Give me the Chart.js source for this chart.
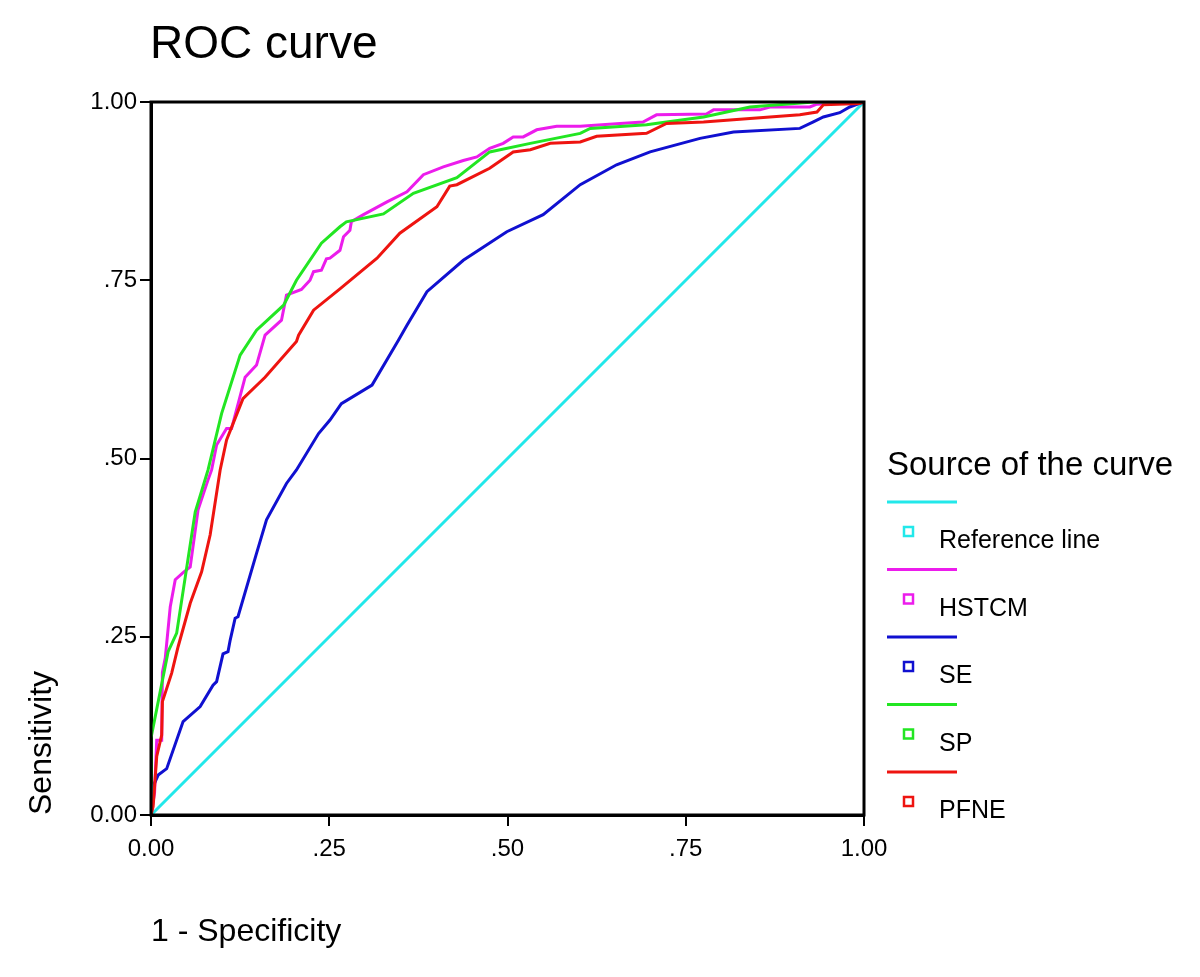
<!DOCTYPE html>
<html>
<head>
<meta charset="utf-8">
<script src="https://cdn.jsdelivr.net/npm/chart.js@4/dist/chart.umd.min.js"></script>
<style>
html,body{margin:0;padding:0;background:#fff;}
#wrap{width:1200px;height:977px;position:relative;}
</style>
</head>
<body>
<div id="wrap"><canvas id="c" width="1200" height="977"></canvas></div>
<script>
// ---- data ----
const chartTitle = "ROC curve";
const xTitle = "1 - Specificity";
const yTitle = "Sensitivity";
const legendTitle = "Source of the curve";
const tickValues = [0, 0.25, 0.5, 0.75, 1];
const tickLabels = ["0.00", ".25", ".50", ".75", "1.00"];

const seriesNames = ["Reference line", "HSTCM", "SE", "SP", "PFNE"];
const seriesColors = ["#22e8ea", "#ec1cec", "#1010d0", "#22e622", "#ee1410"];

const refX = [0, 1];
const refY = [0, 1];

const hstcmX = [0, 0.005, 0.008, 0.015, 0.016, 0.02, 0.027, 0.034, 0.045, 0.055, 0.066, 0.080, 0.085, 0.092, 0.106, 0.113, 0.132, 0.148, 0.160, 0.183, 0.190, 0.211, 0.223, 0.228, 0.239, 0.246, 0.251, 0.265, 0.270, 0.279, 0.281, 0.298, 0.331, 0.359, 0.382, 0.410, 0.438, 0.457, 0.475, 0.494, 0.508, 0.522, 0.541, 0.569, 0.602, 0.658, 0.690, 0.709, 0.779, 0.789, 0.854, 0.868, 0.924, 0.934, 1];
const hstcmY = [0, 0.031, 0.105, 0.105, 0.200, 0.220, 0.292, 0.330, 0.340, 0.348, 0.428, 0.470, 0.484, 0.519, 0.542, 0.542, 0.614, 0.631, 0.673, 0.694, 0.729, 0.737, 0.750, 0.762, 0.764, 0.780, 0.781, 0.792, 0.811, 0.820, 0.832, 0.842, 0.860, 0.874, 0.898, 0.909, 0.918, 0.923, 0.935, 0.942, 0.951, 0.951, 0.961, 0.966, 0.966, 0.970, 0.972, 0.982, 0.983, 0.989, 0.989, 0.993, 0.993, 0.997, 1];

const seX = [0, 0.003, 0.010, 0.022, 0.045, 0.069, 0.087, 0.092, 0.101, 0.108, 0.111, 0.118, 0.122, 0.148, 0.162, 0.190, 0.204, 0.235, 0.251, 0.267, 0.310, 0.347, 0.359, 0.387, 0.438, 0.499, 0.550, 0.602, 0.653, 0.700, 0.770, 0.817, 0.910, 0.929, 0.943, 0.966, 0.980, 0.994, 1];
const seY = [0, 0.040, 0.056, 0.065, 0.131, 0.152, 0.182, 0.187, 0.226, 0.229, 0.245, 0.276, 0.278, 0.367, 0.414, 0.465, 0.484, 0.535, 0.554, 0.577, 0.603, 0.666, 0.687, 0.734, 0.778, 0.818, 0.842, 0.884, 0.912, 0.930, 0.949, 0.958, 0.963, 0.972, 0.979, 0.985, 0.993, 0.998, 1];

const spX = [0, 0, 0.024, 0.036, 0.062, 0.080, 0.099, 0.125, 0.148, 0.186, 0.204, 0.239, 0.265, 0.274, 0.326, 0.368, 0.429, 0.475, 0.532, 0.602, 0.616, 0.695, 0.723, 0.775, 0.840, 0.929, 1];
const spY = [0, 0.108, 0.229, 0.255, 0.425, 0.484, 0.563, 0.645, 0.680, 0.715, 0.750, 0.802, 0.825, 0.832, 0.843, 0.872, 0.894, 0.930, 0.942, 0.956, 0.963, 0.968, 0.972, 0.979, 0.993, 1.0, 1];

const pfneX = [0, 0.003, 0.008, 0.015, 0.016, 0.029, 0.038, 0.055, 0.071, 0.083, 0.097, 0.106, 0.129, 0.160, 0.204, 0.207, 0.228, 0.265, 0.317, 0.349, 0.401, 0.419, 0.429, 0.475, 0.508, 0.532, 0.560, 0.602, 0.625, 0.695, 0.723, 0.775, 0.840, 0.910, 0.934, 0.943, 0.994, 1];
const pfneY = [0, 0.012, 0.082, 0.112, 0.159, 0.199, 0.236, 0.297, 0.341, 0.393, 0.484, 0.526, 0.584, 0.614, 0.664, 0.673, 0.708, 0.738, 0.781, 0.816, 0.853, 0.882, 0.884, 0.907, 0.930, 0.933, 0.942, 0.944, 0.952, 0.956, 0.970, 0.972, 0.977, 0.982, 0.986, 0.996, 0.998, 1];

// ---- build datasets ----
const seriesX = [refX, hstcmX, seX, spX, pfneX];
const seriesY = [refY, hstcmY, seY, spY, pfneY];
const toPoints = (xs, ys) => xs.map((x, i) => ({x: x, y: ys[i]}));

const datasets = seriesNames.map((name, i) => ({
  label: name,
  data: toPoints(seriesX[i], seriesY[i]),
  borderColor: seriesColors[i],
  backgroundColor: seriesColors[i],
  borderWidth: 3,
  pointRadius: 0,
  showLine: true,
  tension: 0,
  fill: false,
  order: seriesNames.length - i
}));

const FONT = "'Liberation Sans', Arial, sans-serif";

const framePlugin = {
  id: 'frame',
  afterDatasetsDraw(chart) {
    const {ctx, chartArea: a} = chart;
    ctx.save();
    ctx.strokeStyle = '#000';
    ctx.lineWidth = 3;
    ctx.strokeRect(a.left, a.top, a.right - a.left, a.bottom - a.top);
    ctx.restore();
  }
};

const titleLegendPlugin = {
  id: 'titleLegend',
  afterDraw(chart) {
    const ctx = chart.ctx;
    ctx.save();
    ctx.fillStyle = '#000';
    ctx.textBaseline = 'alphabetic';
    ctx.textAlign = 'left';
    ctx.font = "46px " + FONT;
    ctx.fillText(chartTitle, 150, 58);

    const lx = 887;
    ctx.font = "33px " + FONT;
    ctx.fillText(legendTitle, lx, 475);
    const ds = chart.data.datasets;
    const step = 67.5;
    ds.forEach((d, i) => {
      const ly = 502 + step * i;
      ctx.strokeStyle = d.borderColor;
      ctx.lineWidth = 3;
      ctx.beginPath();
      ctx.moveTo(lx, ly);
      ctx.lineTo(lx + 70, ly);
      ctx.stroke();
      ctx.lineWidth = 2.5;
      ctx.strokeRect(lx + 17, ly + 25, 9, 9);
      ctx.fillStyle = '#000';
      ctx.font = "25px " + FONT;
      ctx.fillText(d.label, lx + 52, ly + 46);
    });
    ctx.restore();
  }
};

const fmtTick = (v) => {
  const idx = tickValues.findIndex(t => Math.abs(t - v) < 1e-9);
  return idx >= 0 ? tickLabels[idx] : '';
};

new Chart(document.getElementById('c'), {
  type: 'scatter',
  data: { datasets: datasets },
  options: {
    responsive: false,
    animation: false,
    events: [],
    layout: { padding: { left: 0, top: 102, right: 336, bottom: 0 } },
    plugins: {
      legend: { display: false },
      title: { display: false },
      tooltip: { enabled: false }
    },
    scales: {
      x: {
        type: 'linear',
        min: 0, max: 1,
        afterBuildTicks(scale) { scale.ticks = tickValues.map(v => ({value: v})); },
        afterFit(scale) { scale.height = 162; },
        grid: { display: true, drawOnChartArea: false, drawTicks: true, tickLength: 11, color: '#000', lineWidth: 2 },
        border: { display: true, color: '#000', width: 3 },
        ticks: { callback: fmtTick, color: '#000', padding: 9, maxRotation: 0, autoSkip: false, font: { family: FONT, size: 24 } },
        title: { display: true, text: xTitle, align: 'start', color: '#000', font: { family: FONT, size: 32 }, padding: { top: 0, bottom: 26 } }
      },
      y: {
        type: 'linear',
        min: 0, max: 1,
        afterBuildTicks(scale) { scale.ticks = tickValues.map(v => ({value: v})); },
        afterFit(scale) { scale.width = 151; },
        grid: { display: true, drawOnChartArea: false, drawTicks: true, tickLength: 11, color: '#000', lineWidth: 2 },
        border: { display: true, color: '#000', width: 3 },
        ticks: { callback: fmtTick, color: '#000', padding: 3, autoSkip: false, font: { family: FONT, size: 24 } },
        title: { display: true, text: yTitle, align: 'start', color: '#000', font: { family: FONT, size: 32 }, padding: { top: 23, bottom: 0 } }
      }
    }
  },
  plugins: [framePlugin, titleLegendPlugin]
});
</script>
</body>
</html>
